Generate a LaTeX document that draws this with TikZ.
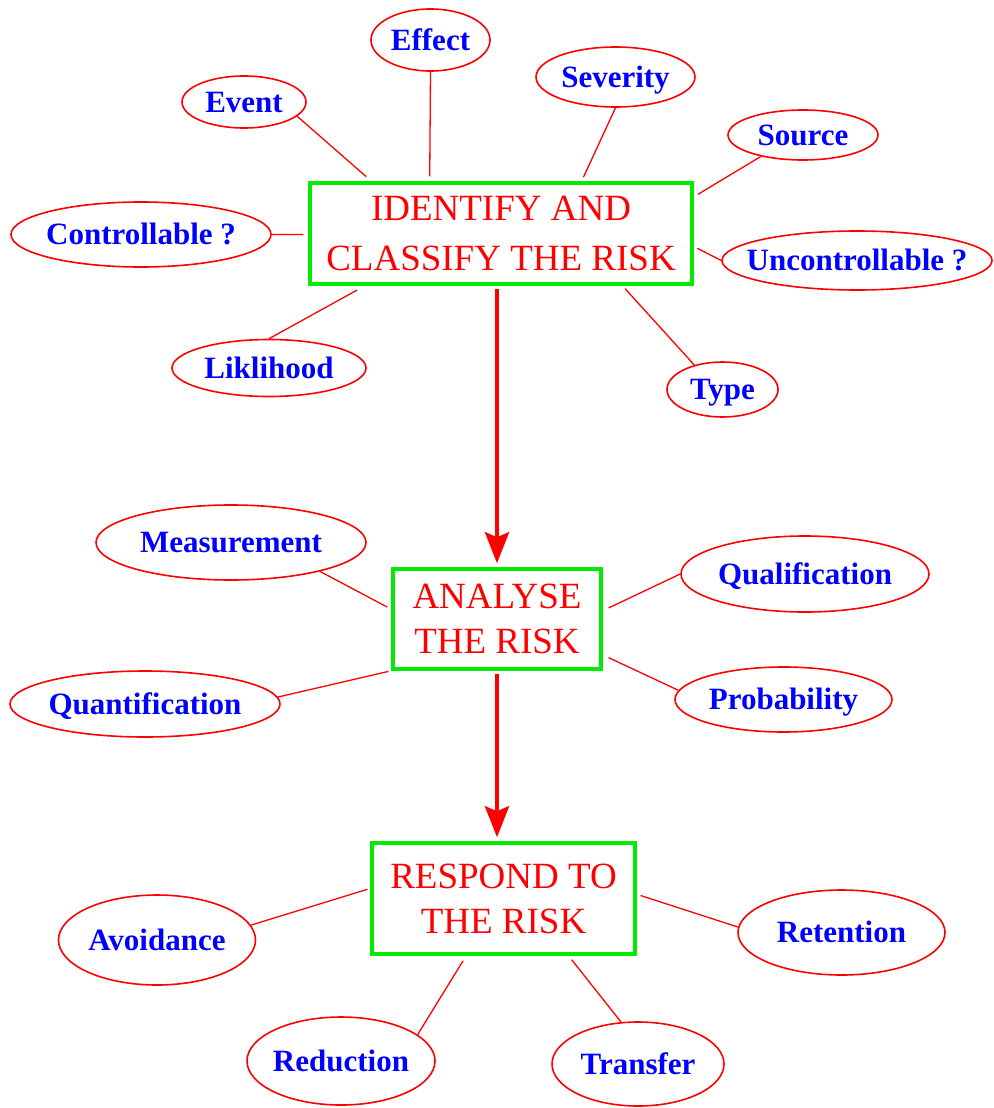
\documentclass[tikz,border=0pt]{standalone}
\usepackage{fontspec}
\setmainfont{Liberation Serif}
\usetikzlibrary{shapes.geometric,arrows.meta,calc}
\definecolor{rred}{RGB}{255,0,0}
\definecolor{bblue}{RGB}{0,0,255}
\definecolor{ggreen}{RGB}{0,235,0}
\newcommand{\elab}[1]{\makebox[0pt]{#1}}
\begin{document}
\begin{tikzpicture}[x=1pt,y=-1pt,
  risk/.style={draw=ggreen, line width=3.5pt, text=rred, align=center, font=\fontsize{37}{50}\selectfont, inner sep=2pt},
  oval/.style={ellipse, draw=rred, line width=1.6pt, text=bblue, font=\fontsize{31}{31}\selectfont\bfseries, inner sep=0pt, text height=20.5pt, text depth=0pt},
  conn/.style={draw=rred, line width=1.3pt},
  bigarrow/.style={draw=rred, line width=4.5pt, -{Stealth[length=31pt,width=24pt,inset=5pt]}}]
\fill[white] (0,0) rectangle (993,1108);
\useasboundingbox (0,0) rectangle (993,1108);

% boxes
\node[risk, minimum width=382pt, minimum height=101pt] (b1) at (501,233.5) {IDENTIFY AND\\CLASSIFY THE RISK};
\node[risk, font=\fontsize{37}{45}\selectfont, minimum width=208pt, minimum height=100pt] (b2) at (497,619) {ANALYSE\\THE RISK};
\node[risk, font=\fontsize{37}{45}\selectfont, minimum width=263pt, minimum height=111pt] (b3) at (503.5,898.5) {RESPOND TO\\THE RISK};

% top ellipses
\node[oval, minimum width=119pt, minimum height=62pt] (effect) at (430.5,40) {\elab{Effect}};
\node[oval, minimum width=124pt, minimum height=52pt] (event) at (244,102) {\elab{Event}};
\node[oval, minimum width=260pt, minimum height=65pt] (contr) at (141,234.5) {\elab{Controllable ?}};
\node[oval, minimum width=194pt, minimum height=57pt] (lik) at (269,368) {\elab{Liklihood}};
\node[oval, minimum width=159pt, minimum height=60pt] (sev) at (615.5,77) {\elab{Severity}};
\node[oval, minimum width=150pt, minimum height=50pt] (src) at (803,135) {\elab{Source}};
\node[oval, minimum width=270pt, minimum height=59pt] (unc) at (857,260.5) {\elab{Uncontrollable ?}};
\node[oval, minimum width=111pt, minimum height=55pt] (type) at (722.5,389.5) {\elab{Type}};

% middle ellipses
\node[oval, minimum width=270pt, minimum height=75pt] (meas) at (231,542.5) {\elab{Measurement}};
\node[oval, minimum width=248pt, minimum height=76pt] (qual) at (805,574) {\elab{Qualification}};
\node[oval, minimum width=270pt, minimum height=66pt] (quant) at (145,704) {\elab{Quantification}};
\node[oval, minimum width=217pt, minimum height=65pt] (prob) at (783.5,699.5) {\elab{Probability}};

% bottom ellipses
\node[oval, minimum width=197pt, minimum height=90pt] (avoid) at (157,940) {\elab{Avoidance}};
\node[oval, minimum width=207pt, minimum height=85pt] (ret) at (841.5,932.5) {\elab{Retention}};
\node[oval, minimum width=188pt, minimum height=88pt] (red) at (341,1061) {\elab{Reduction}};
\node[oval, minimum width=172pt, minimum height=84pt] (trans) at (638,1064) {\elab{Transfer}};

% connectors top
\draw[conn, shorten >=7pt] (event.-15) -- ($(b1.north west)!0.164!(b1.north east)$);
\draw[conn, shorten >=5pt] (effect.south) -- ($(b1.north west)!0.315!(b1.north east)$);
\draw[conn, shorten >=4.5pt] (sev.south) -- ($(b1.north west)!0.709!(b1.north east)$);
\draw[conn, shorten >=5pt] (src.-153.4) -- ($(b1.north east)!0.149!(b1.south east)$);
\draw[conn, shorten >=4pt] (unc.west) -- ($(b1.north east)!0.624!(b1.south east)$);
\draw[conn, shorten >=4pt] (type.139) -- ($(b1.south west)!0.815!(b1.south east)$);
\draw[conn, shorten >=9pt] (lik.north) -- ($(b1.south west)!0.147!(b1.south east)$);
\draw[conn, shorten >=5pt] (contr.east) -- ($(b1.north west)!0.51!(b1.south west)$);

% connectors middle
\draw[conn, shorten >=4.5pt] (meas.-18.7) -- ($(b2.north west)!0.405!(b2.south west)$);
\draw[conn, shorten >=6.5pt] (qual.west) -- ($(b2.north east)!0.42!(b2.south east)$);
\draw[conn, shorten >=3pt] (quant.3) -- (b2.south west);
\draw[conn, shorten >=6.5pt] (prob.175) -- ($(b2.north east)!0.847!(b2.south east)$);

% connectors bottom
\draw[conn, shorten >=3pt] (avoid.9) -- ($(b3.north west)!0.412!(b3.south west)$);
\draw[conn, shorten >=4pt] (ret.177) -- ($(b3.north east)!0.463!(b3.south east)$);
\draw[conn, shorten >=6pt] (red.19) -- ($(b3.south west)!0.36!(b3.south east)$);
\draw[conn, shorten >=5pt] (trans.112.5) -- ($(b3.south west)!0.744!(b3.south east)$);

% main arrows
\draw[bigarrow, shorten <=3pt, shorten >=4pt] (b1.south -| b2.north) -- (b2.north);
\draw[bigarrow, shorten <=3pt, shorten >=4pt] (b2.south) -- (b3.north -| b2.south);
\end{tikzpicture}
\end{document}
